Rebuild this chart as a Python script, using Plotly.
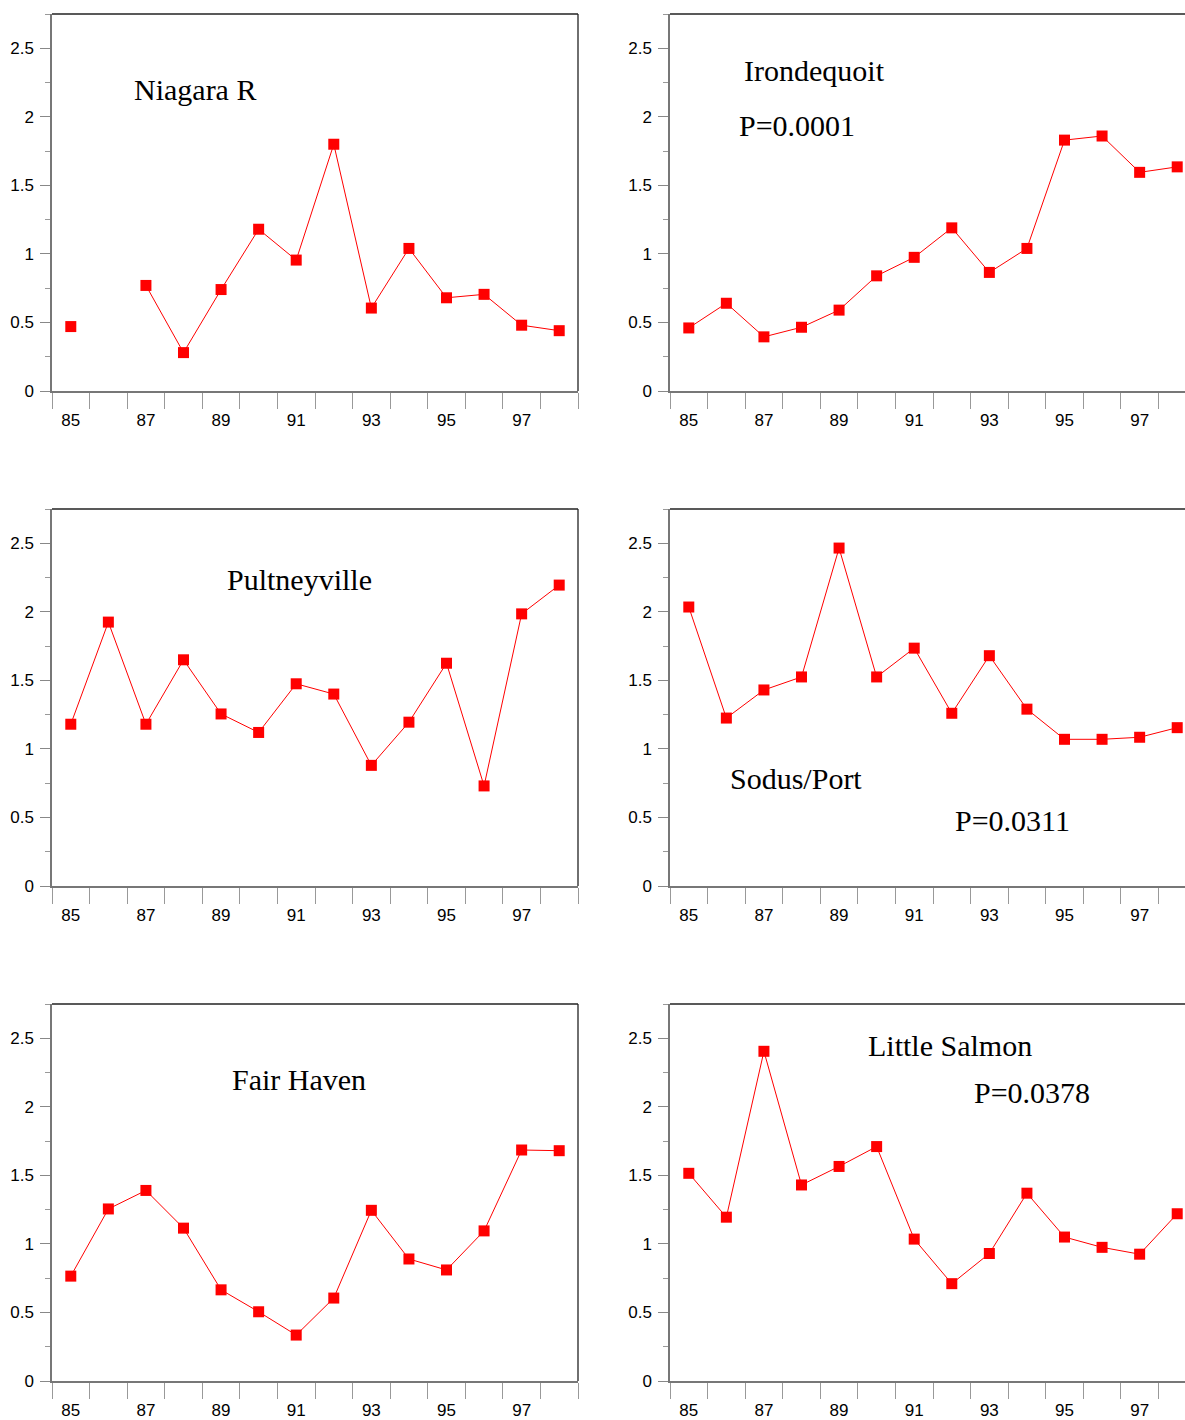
import plotly.graph_objects as go

years = list(range(85, 99))
tick_years = [85, 87, 89, 91, 93, 95, 97]
tick_labels = ["85", "87", "89", "91", "93", "95", "97"]

niagara = [0.47, None, 0.77, 0.28, 0.74, 1.18, 0.955, 1.80, 0.605, 1.04, 0.68, 0.705, 0.48, 0.44]
irondequoit = [0.46, 0.64, 0.395, 0.465, 0.59, 0.84, 0.975, 1.19, 0.865, 1.04, 1.83, 1.86, 1.595, 1.635]
pultneyville = [1.18, 1.925, 1.18, 1.65, 1.255, 1.12, 1.475, 1.40, 0.88, 1.195, 1.625, 0.73, 1.985, 2.195]
sodus = [2.035, 1.225, 1.43, 1.525, 2.465, 1.525, 1.735, 1.26, 1.68, 1.29, 1.07, 1.07, 1.085, 1.155]
fair_haven = [0.765, 1.255, 1.39, 1.115, 0.665, 0.505, 0.335, 0.605, 1.245, 0.89, 0.81, 1.095, 1.685, 1.68]
little_salmon = [1.515, 1.195, 2.405, 1.43, 1.565, 1.71, 1.035, 0.71, 0.93, 1.37, 1.05, 0.975, 0.925, 1.22]

series = [niagara, irondequoit, pultneyville, sodus, fair_haven, little_salmon]

W, H = 1185, 1420
left_px = [(52, 578), (670, 1185)]
rows_px = [(14, 391), (509, 886), (1004, 1381)]
bin_px = (578 - 52) / 14.0

fig = go.Figure()
shapes = []
idx = 0
for r, (top, bot) in enumerate(rows_px):
    for c, (x0, x1) in enumerate(left_px):
        idx += 1
        xa = "xaxis" if idx == 1 else f"xaxis{idx}"
        ya = "yaxis" if idx == 1 else f"yaxis{idx}"
        xr = "x" if idx == 1 else f"x{idx}"
        yr = "y" if idx == 1 else f"y{idx}"
        fig.add_trace(go.Scatter(
            x=years, y=series[idx - 1], xaxis=xr, yaxis=yr,
            mode="lines+markers", connectgaps=False,
            line=dict(color="#ff0000", width=1),
            marker=dict(symbol="square", size=11, color="#ff0000"),
            showlegend=False, hoverinfo="x+y"))
        xmax = 84.5 + (x1 - x0) / bin_px
        fig.layout[xa] = dict(
            domain=[x0 / W, x1 / W], anchor=yr, range=[84.5, xmax],
            automargin=False,
            showgrid=False, zeroline=False, showline=True,
            linecolor="#777777", linewidth=1.5,
            tickmode="array", tickvals=tick_years, ticktext=tick_labels,
            ticks="outside", ticklen=13, tickcolor="rgba(0,0,0,0)",
            tickfont=dict(family="Liberation Sans, Arial", size=17, color="#000"),
            minor=dict(ticks="outside", tickmode="array",
                       tickvals=[y + 0.5 for y in range(84, 99)],
                       ticklen=16, tickcolor="#999999", tickwidth=1.3),
            fixedrange=True)
        fig.layout[ya] = dict(
            domain=[1 - bot / H, 1 - top / H], anchor=xr, range=[0, 2.75],
            automargin=False,
            showgrid=False, zeroline=False, showline=True,
            linecolor="#777777", linewidth=1.5,
            tickmode="array", tickvals=[0, 0.5, 1, 1.5, 2, 2.5],
            ticktext=["0", "0.5", "1", "1.5", "2", "2.5"],
            ticks="outside", ticklen=10, tickcolor="#888888", tickwidth=1.2,
            ticklabelstandoff=3,
            tickfont=dict(family="Liberation Sans, Arial", size=17, color="#000"),
            minor=dict(ticks="outside", tickmode="array",
                       tickvals=[0.25, 0.75, 1.25, 1.75, 2.25, 2.75],
                       ticklen=5, tickcolor="#999999", tickwidth=1.2),
            fixedrange=True)
        shapes.append(dict(type="line", xref=f"{xr} domain", yref=f"{yr} domain",
                           x0=0, x1=1, y0=1, y1=1,
                           line=dict(color="#222222", width=1.3)))
        if c == 0:
            shapes.append(dict(type="line", xref=f"{xr} domain", yref=f"{yr} domain",
                               x0=1, x1=1, y0=0, y1=1,
                               line=dict(color="#222222", width=1.3)))

labels = [
    ("Niagara R", 195, 89),
    ("Irondequoit", 814, 70),
    ("P=0.0001", 797, 126),
    ("Pultneyville", 299, 579),
    ("Sodus/Port", 796, 778),
    ("P=0.0311", 1012, 820),
    ("Fair Haven", 299, 1079),
    ("Little Salmon", 950, 1045),
    ("P=0.0378", 1032, 1092),
]
annotations = []
for text, px, py in labels:
    annotations.append(dict(text=text, x=px / W, y=1 - py / H, xref="paper", yref="paper",
                            xanchor="center", yanchor="middle", showarrow=False,
                            font=dict(family="Liberation Serif, Times New Roman", size=30, color="#000")))

fig.update_layout(
    width=W, height=H, margin=dict(l=0, r=0, t=0, b=0, autoexpand=False),
    paper_bgcolor="white", plot_bgcolor="white",
    shapes=shapes, annotations=annotations, showlegend=False)

post = ("document.documentElement.style.margin='0';"
        "document.body.style.margin='0';"
        "document.documentElement.style.overflow='hidden';"
        "document.body.style.overflow='hidden';")
fig.write_html("out.html", config={"displayModeBar": False}, post_script=post)
